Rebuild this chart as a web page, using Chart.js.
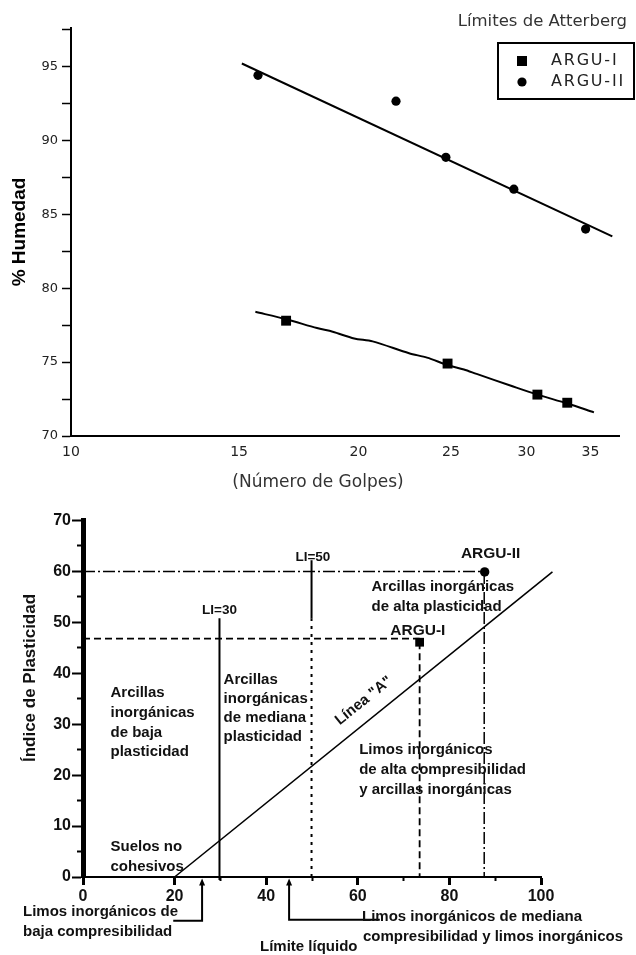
<!DOCTYPE html>
<html><head><meta charset="utf-8">
<script src="https://cdn.jsdelivr.net/npm/chart.js@4.4.1/dist/chart.umd.min.js"></script>
<style>
html,body{margin:0;padding:0;background:#fff;}
#wrap{position:relative;width:636px;height:955px;overflow:hidden;background:#fff;}
#c1{position:absolute;left:0;top:0;}
#c2{position:absolute;left:0;top:495px;}
</style></head><body>
<div id="wrap"><canvas id="c1" width="636" height="500"></canvas><canvas id="c2" width="636" height="460"></canvas></div>
<script>
// ---------- Top chart: Límites de Atterberg ----------
const golpesTicks = [10, 15, 20, 25, 30, 35];
const arguI_golpes = [16.8, 24.8, 30.8, 33.1];
const arguI_humedad = [77.8, 74.9, 72.8, 72.25];
const arguII_golpes = [15.7, 21.9, 24.7, 29.1, 34.6];
const arguII_humedad = [94.4, 92.65, 88.85, 86.7, 84.0];
const ajusteI_golpes = [15.6, 16.8, 18.1, 18.8, 19.8, 20.7, 22.6, 23.6, 24.8, 25.8, 26.6, 28.9, 30.8, 33.1, 35.3];
const ajusteI_humedad = [78.4, 77.9, 77.3, 77.05, 76.6, 76.4, 75.6, 75.3, 74.8, 74.5, 74.2, 73.4, 72.8, 72.2, 71.6];
const ajusteII_golpes = [15.1, 36.9];
const ajusteII_humedad = [95.2, 83.5];

// ---------- Bottom chart: Carta de plasticidad ----------
const llTicks = [0, 20, 40, 60, 80, 100];
const llMinor = [30, 50, 70, 90];
const ipTicks = [0, 10, 20, 30, 40, 50, 60, 70];
const ipMinor = [5, 15, 25, 35, 45, 55, 65];
const lineaA_LL = [20, 102.5];
const lineaA_IP = [0, 59.9];
const li30_LL = [29.8, 29.8];
const li30_IP = [-0.6, 50.8];
const li50sup_LL = [49.9, 49.9];
const li50sup_IP = [50.8, 62.2];
const li50inf_LL = [49.9, 49.9];
const li50inf_IP = [0, 50.8];
const muestraI_LL = [73.5];
const muestraI_IP = [46.1];
const muestraII_LL = [87.7];
const muestraII_IP = [59.9];
const guiaI_h_LL = [0, 73.5];
const guiaI_h_IP = [46.8, 46.8];
const guiaI_v_LL = [73.5, 73.5];
const guiaI_v_IP = [46.1, 0];
const guiaII_h_LL = [0, 87.7];
const guiaII_h_IP = [60, 60];
const guiaII_v_LL = [87.6, 87.6];
const guiaII_v_IP = [59.9, 0];
const flecha1_LL = [19.7, 26, 26];
const flecha1_IP = [-8.6, -8.6, -1.1];
const flecha2_LL = [64.8, 45, 45];
const flecha2_IP = [-8.4, -8.4, -1.1];

const zip = (xs, ys) => xs.map((x, i) => ({x: x, y: ys[i]}));
const BOLD = '"Liberation Sans", Arial, sans-serif';
const REG = '"DejaVu Sans", sans-serif';

const textTop = {
  id: 'textTop',
  afterDraw(chart) {
    const ctx = chart.ctx;
    ctx.save();
    ctx.fillStyle = '#333';
    ctx.font = '16.5px ' + REG;
    ctx.textAlign = 'right'; ctx.textBaseline = 'middle';
    ctx.fillText('Límites de Atterberg', 627, 22);
    // legend
    ctx.strokeStyle = '#000'; ctx.lineWidth = 2;
    ctx.strokeRect(498, 43, 136, 56);
    ctx.fillStyle = '#000';
    ctx.fillRect(517, 56, 10, 10);
    ctx.beginPath(); ctx.arc(522, 82, 4.6, 0, Math.PI * 2); ctx.fill();
    ctx.fillStyle = '#222';
    ctx.textAlign = 'left';
    ctx.font = '16px ' + REG;
    try { ctx.letterSpacing = '1.8px'; } catch (e) {}
    ctx.fillText(chart.data.datasets[0].label, 551, 61);
    ctx.fillText(chart.data.datasets[1].label, 551, 82);
    try { ctx.letterSpacing = '0px'; } catch (e) {}
    // axis titles
    ctx.fillStyle = '#333';
    ctx.textAlign = 'center';
    ctx.font = '17px ' + REG;
    ctx.fillText('(Número de Golpes)', 318, 483);
    ctx.fillStyle = '#000';
    ctx.translate(20, 232); ctx.rotate(-Math.PI / 2);
    ctx.font = 'bold 19px ' + BOLD;
    ctx.fillText('% Humedad', 0, 0);
    ctx.restore();
  }
};

new Chart(document.getElementById('c1'), {
  type: 'scatter',
  data: {datasets: [
    {label: 'ARGU-I', data: zip(arguI_golpes, arguI_humedad), pointStyle: 'rect', pointRadius: 7, backgroundColor: '#000', borderColor: '#000', borderWidth: 0, showLine: false},
    {label: 'ARGU-II', data: zip(arguII_golpes, arguII_humedad), pointStyle: 'circle', pointRadius: 4.6, backgroundColor: '#000', borderColor: '#000', borderWidth: 0, showLine: false},
    {label: 'ajuste ARGU-I', data: zip(ajusteI_golpes, ajusteI_humedad), showLine: true, pointRadius: 0, borderColor: '#000', borderWidth: 2, tension: 0.3, fill: false},
    {label: 'ajuste ARGU-II', data: zip(ajusteII_golpes, ajusteII_humedad), showLine: true, pointRadius: 0, borderColor: '#000', borderWidth: 2, fill: false}
  ]},
  options: {
    responsive: false, animation: false, devicePixelRatio: 1, events: [],
    layout: {padding: {left: 0, right: 17, top: 28, bottom: 0}},
    plugins: {legend: {display: false}, tooltip: {enabled: false}},
    scales: {
      x: {
        type: 'logarithmic', min: 10, max: 37.5,
        afterBuildTicks: s => { s.ticks = golpesTicks.map(v => ({value: v})); },
        afterFit: s => { s.height = 64; },
        grid: {display: true, drawOnChartArea: false, drawTicks: false},
        border: {display: true, color: '#000', width: 2},
        ticks: {padding: 8, color: '#222', font: {family: 'DejaVu Sans', size: 14}, autoSkip: false, maxRotation: 0, callback: v => String(v)}
      },
      y: {
        min: 70, max: 97.6,
        afterFit: s => { s.width = 71; },
        ticks: {stepSize: 2.5, includeBounds: false, padding: 4, color: '#222', font: {family: 'DejaVu Sans', size: 13}, callback: v => (v % 5 === 0 ? String(v) : '')},
        grid: {drawOnChartArea: false, tickLength: 9, tickColor: '#000', tickWidth: 1.5},
        border: {color: '#000', width: 2}
      }
    }
  },
  plugins: [textTop]
});

// ---------- bottom ----------
const notas = [
  {x: 6.0, y: 36.1, dy: 19.7, lines: ['Arcillas', 'inorgánicas', 'de baja', 'plasticidad']},
  {x: 30.7, y: 38.8, dy: 19.3, lines: ['Arcillas', 'inorgánicas', 'de mediana', 'plasticidad']},
  {x: 6.0, y: 5.9, dy: 20, lines: ['Suelos no', 'cohesivos']},
  {x: 63.0, y: 56.9, dy: 20, lines: ['Arcillas inorgánicas', 'de alta plasticidad']},
  {x: 60.3, y: 24.9, dy: 20, lines: ['Limos inorgánicos', 'de alta compresibilidad', 'y arcillas inorgánicas']}
];
const etiquetas = [
  {x: 29.8, y: 52.4, t: 'LI=30', size: 13.5},
  {x: 50.2, y: 62.7, t: 'LI=50', size: 13.5},
  {x: 89.0, y: 63.4, t: 'ARGU-II', size: 15.5},
  {x: 73.1, y: 48.4, t: 'ARGU-I', size: 15.5}
];

const textBottom = {
  id: 'textBottom',
  afterDraw(chart) {
    const ctx = chart.ctx, xs = chart.scales.x, ys = chart.scales.y;
    ctx.save();
    // arrowheads at the end of each callout
    ctx.fillStyle = '#000';
    [[flecha1_LL, flecha1_IP], [flecha2_LL, flecha2_IP]].forEach(([lx, ly]) => {
      const n = lx.length - 1;
      const px = xs.getPixelForValue(lx[n]), py = ys.getPixelForValue(ly[n]);
      ctx.beginPath();
      ctx.moveTo(px, py - 4);
      ctx.lineTo(px - 3, py + 3);
      ctx.lineTo(px + 3, py + 3);
      ctx.closePath(); ctx.fill();
    });
    ctx.fillStyle = '#111';
    ctx.textBaseline = 'middle';
    ctx.font = 'bold 15px ' + BOLD;
    ctx.textAlign = 'left';
    notas.forEach(n => {
      const px = xs.getPixelForValue(n.x), py = ys.getPixelForValue(n.y);
      n.lines.forEach((l, i) => ctx.fillText(l, px, py + i * n.dy));
    });
    ctx.textAlign = 'center';
    etiquetas.forEach(e => {
      ctx.font = 'bold ' + e.size + 'px ' + BOLD;
      ctx.fillText(e.t, xs.getPixelForValue(e.x), ys.getPixelForValue(e.y));
    });
    // below axis
    ctx.font = 'bold 15px ' + BOLD;
    ctx.textAlign = 'left';
    ctx.fillText('Limos inorgánicos de', 23, 416.7);
    ctx.fillText('baja compresibilidad', 23, 436.7);
    ctx.fillText('Límite líquido', 260, 452);
    ctx.fillText('Limos inorgánicos de mediana', 362, 421.7);
    ctx.fillText('compresibilidad y limos inorgánicos', 363, 441.7);
    // Línea "A"
    const x1 = xs.getPixelForValue(lineaA_LL[0]), y1 = ys.getPixelForValue(lineaA_IP[0]);
    const x2 = xs.getPixelForValue(lineaA_LL[1]), y2 = ys.getPixelForValue(lineaA_IP[1]);
    const ang = Math.atan2(y2 - y1, x2 - x1);
    ctx.save();
    ctx.translate(xs.getPixelForValue(61.3), ys.getPixelForValue(34.6));
    ctx.rotate(ang);
    ctx.textAlign = 'center';
    ctx.fillText('Línea "A"', 0, 0);
    ctx.restore();
    // y title
    ctx.translate(30, 183); ctx.rotate(-Math.PI / 2);
    ctx.textAlign = 'center';
    ctx.font = 'bold 17px ' + BOLD;
    ctx.fillText('Índice de Plasticidad', 0, 0);
    ctx.restore();
  }
};

const lineDs = (label, xs, ys, w, dash) => ({label: label, data: zip(xs, ys), showLine: true, pointRadius: 0, borderColor: '#000', borderWidth: w, borderDash: dash || [], fill: false, clip: false});

new Chart(document.getElementById('c2'), {
  type: 'scatter',
  data: {datasets: [
    lineDs('Línea A', lineaA_LL, lineaA_IP, 1.6),
    lineDs('LI=30', li30_LL, li30_IP, 2),
    lineDs('LI=50', li50sup_LL, li50sup_IP, 2),
    lineDs('LI=50 inf', li50inf_LL, li50inf_IP, 2, [3, 5]),
    lineDs('guia I h', guiaI_h_LL, guiaI_h_IP, 1.8, [7, 4]),
    lineDs('guia I v', guiaI_v_LL, guiaI_v_IP, 1.8, [7, 4]),
    lineDs('guia II h', guiaII_h_LL, guiaII_h_IP, 1.5, [12, 3, 2, 3]),
    lineDs('guia II v', guiaII_v_LL, guiaII_v_IP, 1.5, [12, 3, 2, 3]),
    lineDs('flecha 1', flecha1_LL, flecha1_IP, 2),
    lineDs('flecha 2', flecha2_LL, flecha2_IP, 2),
    {label: 'ARGU-I', data: zip(muestraI_LL, muestraI_IP), pointStyle: 'rect', pointRadius: 6.2, backgroundColor: '#000', borderWidth: 0, showLine: false, clip: false},
    {label: 'ARGU-II', data: zip(muestraII_LL, muestraII_IP), pointStyle: 'circle', pointRadius: 4.7, backgroundColor: '#000', borderWidth: 0, showLine: false, clip: false}
  ]},
  options: {
    responsive: false, animation: false, devicePixelRatio: 1, events: [],
    layout: {padding: {left: 0, right: 95, top: 25, bottom: 0}},
    plugins: {legend: {display: false}, tooltip: {enabled: false}},
    scales: {
      x: {
        type: 'linear', min: 0, max: 100, position: 'bottom', weight: 1,
        afterBuildTicks: s => { s.ticks = llTicks.map(v => ({value: v})); },
        afterFit: s => { s.height = 78; },
        ticks: {autoSkip: false, maxRotation: 0, padding: 2, color: '#111', font: {family: 'Liberation Sans', weight: 'bold', size: 16}, callback: v => String(v)},
        grid: {drawOnChartArea: false, tickLength: 8, tickColor: '#000', tickWidth: 3},
        border: {color: '#000', width: 2}
      },
      xMenor: {
        type: 'linear', min: 0, max: 100, position: 'bottom', weight: 0,
        afterBuildTicks: s => { s.ticks = llMinor.map(v => ({value: v})); },
        afterFit: s => { s.height = 0; },
        ticks: {display: false},
        grid: {drawOnChartArea: false, tickLength: 4, tickColor: '#000', tickWidth: 2},
        border: {display: false}
      },
      y: {
        min: 0, max: 70.1, position: 'left', weight: 1,
        afterBuildTicks: s => { s.ticks = ipTicks.map(v => ({value: v})); },
        afterFit: s => { s.width = 83; },
        ticks: {padding: 1, color: '#111', font: {family: 'Liberation Sans', weight: 'bold', size: 16}, callback: v => String(v)},
        grid: {drawOnChartArea: false, tickLength: 11, tickColor: '#000', tickWidth: 2},
        border: {color: '#000', width: 5}
      },
      yMenor: {
        min: 0, max: 70.1, position: 'left', weight: 0,
        afterBuildTicks: s => { s.ticks = ipMinor.map(v => ({value: v})); },
        afterFit: s => { s.width = 0; },
        ticks: {display: false},
        grid: {drawOnChartArea: false, tickLength: 6, tickColor: '#000', tickWidth: 2},
        border: {display: false}
      }
    }
  },
  plugins: [textBottom]
});
</script>
</body></html>
